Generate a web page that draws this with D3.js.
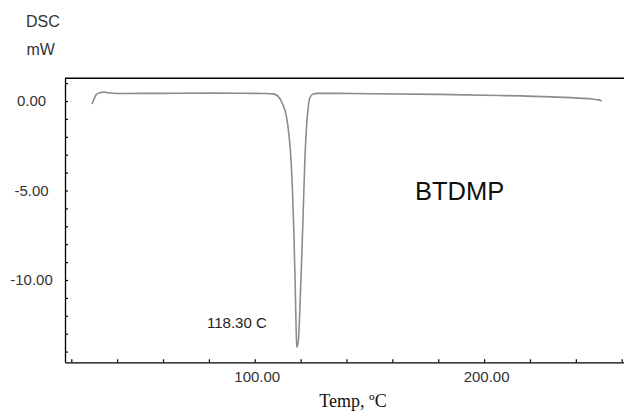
<!DOCTYPE html>
<html><head><meta charset="utf-8">
<script src="https://cdn.jsdelivr.net/npm/d3@7"></script>
<style>body{margin:0;background:#fff}svg{display:block}</style>
</head><body>
<svg id="c" width="624" height="411"></svg>
<script>
// Data
const temps = [29.0,29.9,30.9,32.0,34.5,36.0,40,60,80,100,104,108,110.2,112.3,113.8,115.0,115.8,116.5,117.1,117.6,118.0,118.3,119.0,119.6,120.4,121.1,121.8,122.5,123.2,124.0,125.4,127.6,132.7,150,180,206.8,229.5,241.7,247,250.4,251.2];
const dsc   = [-0.17,0.10,0.36,0.45,0.50,0.46,0.42,0.43,0.44,0.43,0.42,0.40,0.26,-0.21,-0.86,-2.0,-3.3,-5.2,-7.6,-10.2,-12.5,-13.75,-13.4,-11.84,-9.05,-6.26,-3.46,-1.57,-0.46,0.17,0.39,0.43,0.43,0.41,0.37,0.31,0.23,0.16,0.11,0.05,0.0];
const xTickValues = [20,40,60,80,100,120,140,160,180,200,220,240,260];
const xLabelValues = [100,200];
const yTickValues = [-14,-13,-12,-11,-10,-9,-8,-7,-6,-5,-4,-3,-2,-1,0,1];
const yLabelValues = [0,-5,-10];
const peakLabel = "118.30 C";
const sampleName = "BTDMP";

const fmt = d => d3.format(".2f")(d).replace("\u2212","-");
const svg = d3.select("#c");
const x = d3.scaleLinear().domain([17.25, 262]).range([65, 626.3]);
const y = d3.scaleLinear().domain([-14.6, 1.27]).range([362.3, 78.3]);

// top border
svg.append("line").attr("x1",65).attr("x2",624).attr("y1",y(1.27)).attr("y2",y(1.27))
  .attr("stroke","#000").attr("stroke-width",1.6);

// bottom axis
const gx = svg.append("g").attr("transform",`translate(0,${y(-14.6)})`)
  .call(d3.axisBottom(x).tickValues(xTickValues).tickSizeInner(-3).tickSizeOuter(0)
    .tickPadding(9).tickFormat(d => xLabelValues.includes(d) ? fmt(d) : ""));
gx.select(".domain").attr("stroke","#000").attr("stroke-width",1.3);
gx.selectAll(".tick line").attr("stroke","#000").attr("stroke-width",1.2);
gx.selectAll(".tick text").attr("font-family","Liberation Sans, Arial, sans-serif")
  .attr("font-size",15).attr("fill","#333").attr("dx",2);

// left axis
const gy = svg.append("g").attr("transform",`translate(65,0)`)
  .call(d3.axisLeft(y).tickValues(yTickValues).tickSizeInner(-3).tickSizeOuter(0).tickFormat(""));
gy.select(".domain").attr("stroke","#000").attr("stroke-width",1.3);
gy.selectAll(".tick line").attr("stroke","#000").attr("stroke-width",1.2);

svg.append("g").selectAll("text").data(yLabelValues).join("text")
  .attr("x",31.5).attr("y",d => y(d)).attr("dy","0.36em")
  .attr("text-anchor","middle")
  .attr("font-family","Liberation Sans, Arial, sans-serif").attr("font-size",15).attr("fill","#333")
  .text(fmt);

// curve
const pts = temps.map((t,i) => [t, dsc[i]]);
svg.append("path").datum(pts)
  .attr("fill","none").attr("stroke","#8c8c8c").attr("stroke-width",1.6)
  .attr("d", d3.line().x(d => x(d[0])).y(d => y(d[1])).curve(d3.curveMonotoneX));

// texts
const sans = "Liberation Sans, Arial, sans-serif";
svg.append("text").attr("x",26).attr("y",26.7).attr("font-family",sans).attr("font-size",16).attr("fill","#333").text("DSC");
svg.append("text").attr("x",26.5).attr("y",55).attr("font-family",sans).attr("font-size",16).attr("fill","#333").text("mW");
svg.append("text").attr("x",207).attr("y",328.3).attr("font-family",sans).attr("font-size",15).attr("fill","#222").text(peakLabel);
svg.append("text").attr("x",415).attr("y",200).attr("font-family",sans).attr("font-size",25.5).attr("fill","#111").text(sampleName);
svg.append("text").attr("x",353).attr("y",406.5).attr("text-anchor","middle")
  .attr("font-family","Liberation Serif, Times New Roman, serif").attr("font-size",18).attr("fill","#111").text("Temp, ºC");
</script>
</body></html>
